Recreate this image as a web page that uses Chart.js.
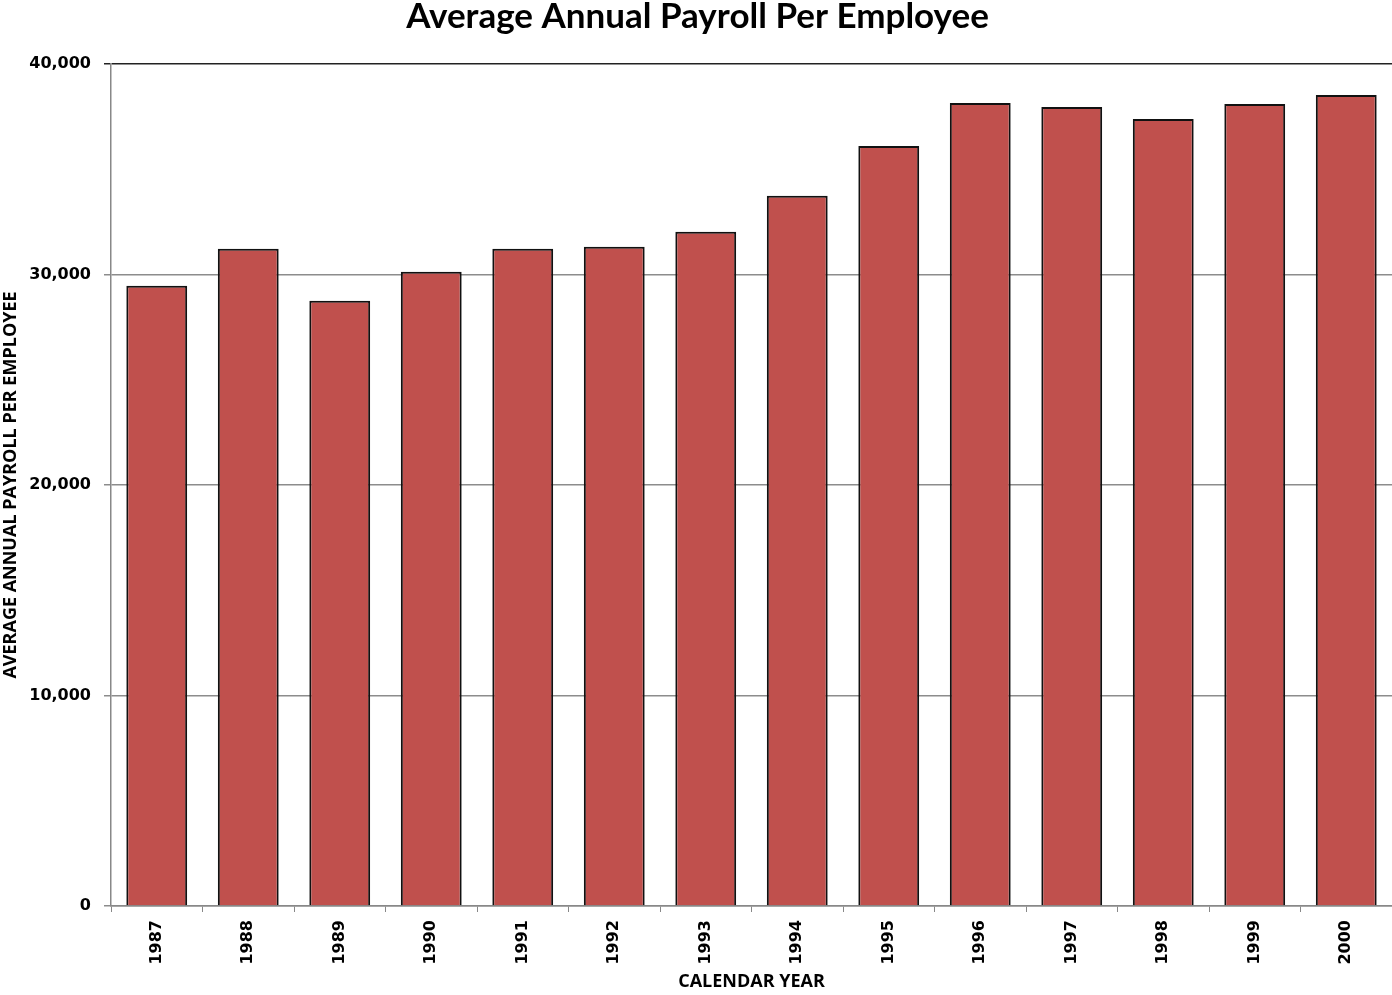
<!DOCTYPE html>
<html lang="en">
<head>
    <meta charset="UTF-8">
    <title>Average Annual Payroll Per Employee</title>
    <script src="https://cdn.jsdelivr.net/npm/chart.js"></script>
</head>
<body style="margin:0;background:#fff;">
    <div style="width:1392px;height:995px;position:relative;">
        <canvas id="payrollChart"></canvas>
    </div>
    <script>
        // Calendar years and average payroll per employee (dollars)
        const years = ['1987', '1988', '1989', '1990', '1991', '1992', '1993', '1994', '1995', '1996', '1997', '1998', '1999', '2000'];
        const payroll = [29470, 31220, 28750, 30130, 31220, 31320, 32030, 33740, 36110, 38150, 37960, 37390, 38100, 38530];
        const yTicks = [0, 10000, 20000, 30000, 40000];

        const ctx = document.getElementById('payrollChart').getContext('2d');
        new Chart(ctx, {
            type: 'bar',
            data: {
                labels: years,
                datasets: [{
                    label: 'Average Annual Payroll',
                    data: payroll,
                    backgroundColor: '#C0504D',
                    borderColor: '#111',
                    borderWidth: 2,
                    categoryPercentage: 1,
                    barPercentage: 0.665
                }]
            },
            options: {
                responsive: true,
                maintainAspectRatio: false,
                animation: false,
                layout: { padding: { top: -4, right: -3, bottom: 0, left: 0 } },
                plugins: {
                    legend: { display: false },
                    tooltip: { enabled: false },
                    title: {
                        display: true,
                        text: 'Average Annual Payroll Per Employee',
                        color: '#000',
                        font: { family: 'Lato', size: 35, weight: 'bold' },
                        padding: { top: 0, bottom: 26 }
                    }
                },
                scales: {
                    x: {
                        offset: true,
                        grid: {
                            offset: true,
                            drawOnChartArea: false,
                            color: '#888',
                            tickLength: 6
                        },
                        border: { color: '#888', width: 1.5 },
                        ticks: {
                            color: '#000',
                            minRotation: 90,
                            maxRotation: 90,
                            padding: 8,
                            font: { family: 'DejaVu Sans', size: 16, weight: 'bold' }
                        },
                        title: {
                            display: true,
                            text: 'CALENDAR YEAR',
                            color: '#000',
                            font: { family: 'Open Sans', size: 18, weight: 'bold' },
                            padding: { top: 2, bottom: 2 }
                        },
                        afterFit: function(axis) { axis.height = 89; }
                    },
                    y: {
                        min: 0,
                        max: 40000,
                        afterBuildTicks: function(axis) {
                            axis.ticks = yTicks.map(v => ({ value: v }));
                        },
                        grid: {
                            color: ctx => ctx.tick && ctx.tick.value === 40000 ? '#222' : '#8c8c8c',
                            lineWidth: 1.5,
                            tickLength: 7
                        },
                        border: { color: '#888', width: 1.5 },
                        ticks: {
                            color: '#000',
                            padding: 13,
                            font: { family: 'DejaVu Sans', size: 16, weight: 'bold' },
                            callback: v => v.toLocaleString('en-US')
                        },
                        title: {
                            display: true,
                            text: 'AVERAGE ANNUAL PAYROLL PER EMPLOYEE',
                            color: '#000',
                            font: { family: 'Open Sans', size: 18, weight: 'bold' },
                            padding: { top: 0, bottom: 2 }
                        },
                        afterFit: function(axis) { axis.width = 111; }
                    }
                }
            }
        });
    </script>
</body>
</html>
